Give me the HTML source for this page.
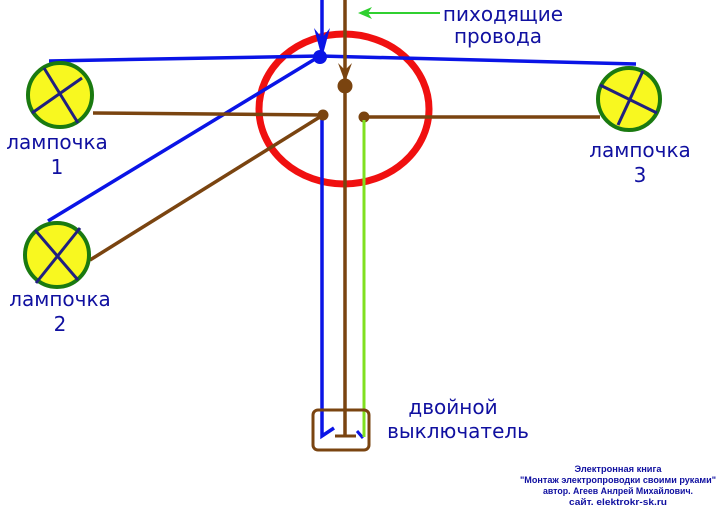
<!DOCTYPE html>
<html><head><meta charset="utf-8"><style>
html,body{margin:0;padding:0;background:#fff;width:724px;height:511px;overflow:hidden}
</style></head><body>
<svg width="724" height="511" viewBox="0 0 724 511" xmlns="http://www.w3.org/2000/svg" font-family="'DejaVu Sans','Liberation Sans',sans-serif">
<ellipse cx="344" cy="109" rx="85" ry="75" fill="none" stroke="#f01010" stroke-width="7"/>
<polyline points="49,61 320,56 636,64" fill="none" stroke="#0a14e6" stroke-width="3.5"/>
<line x1="320" y1="56" x2="48" y2="221" stroke="#0a14e6" stroke-width="3.5"/>
<line x1="322" y1="0" x2="322" y2="50" stroke="#0a14e6" stroke-width="3.5"/>
<polygon points="314,28 322,38 330,28 322,58" fill="#0a14e6"/>
<circle cx="320" cy="57" r="7" fill="#0a14e6"/>
<polyline points="322,117 322,436 334,428" fill="none" stroke="#0a14e6" stroke-width="3.5"/>
<line x1="357" y1="431" x2="363" y2="438" stroke="#0a14e6" stroke-width="3"/>
<line x1="345" y1="0" x2="345" y2="436" stroke="#7a4410" stroke-width="3.5"/>
<polygon points="338,63 345,70 352,63 345,82" fill="#7a4410"/>
<circle cx="345" cy="86" r="7.5" fill="#7a4410"/>
<line x1="93" y1="113" x2="323" y2="115" stroke="#7a4410" stroke-width="3.5"/>
<line x1="90" y1="260" x2="323" y2="115" stroke="#7a4410" stroke-width="3.5"/>
<circle cx="323" cy="115" r="5.5" fill="#7a4410"/>
<line x1="364" y1="117" x2="600" y2="117" stroke="#7a4410" stroke-width="3.5"/>
<circle cx="364" cy="117" r="5.5" fill="#7a4410"/>
<line x1="335" y1="436" x2="356" y2="436" stroke="#7a4410" stroke-width="3"/>
<line x1="364" y1="120" x2="364" y2="437" stroke="#80e020" stroke-width="3"/>
<line x1="440" y1="13" x2="368" y2="13" stroke="#30d030" stroke-width="2"/>
<polygon points="358,13 372,7 368,13 372,19" fill="#30d030"/>
<rect x="313" y="410" width="56" height="40" rx="5" fill="none" stroke="#7a4410" stroke-width="3"/>
<g stroke="#1a7a10" stroke-width="4" fill="#f8f820">
<circle cx="60" cy="95" r="32"/>
<circle cx="57" cy="255" r="32"/>
<circle cx="629" cy="99" r="31"/>
</g>
<g stroke="#202080" stroke-width="3">
<line x1="44" y1="68" x2="78" y2="123"/><line x1="32" y1="113" x2="82" y2="78"/>
<line x1="35" y1="230" x2="78" y2="280"/><line x1="36" y1="283" x2="80" y2="228"/>
<line x1="600" y1="85" x2="657" y2="113"/><line x1="618" y1="125" x2="643" y2="71"/>
</g>
<g fill="#1010a0" font-size="20" text-anchor="middle">
<text x="57" y="149">лампочка</text><text x="57" y="174">1</text>
<text x="60" y="306">лампочка</text><text x="60" y="331">2</text>
<text x="640" y="157">лампочка</text><text x="640" y="182">3</text>
<text x="503" y="21">пиходящие</text><text x="498" y="43">провода</text>
<text x="453" y="414">двойной</text><text x="458" y="438">выключатель</text>
</g>
<g fill="#1010a0" font-size="9" font-weight="bold" font-family="'Liberation Sans',sans-serif" text-anchor="middle">
<text x="618" y="472" textLength="87" lengthAdjust="spacingAndGlyphs">Электронная книга</text>
<text x="618" y="483" textLength="196" lengthAdjust="spacingAndGlyphs">"Монтаж электропроводки своими руками"</text>
<text x="618" y="494" textLength="150" lengthAdjust="spacingAndGlyphs">автор. Агеев Анлрей Михайлович.</text>
<text x="618" y="505" textLength="98" lengthAdjust="spacingAndGlyphs">сайт. elektrokr-sk.ru</text>
</g>
</svg>
</body></html>
